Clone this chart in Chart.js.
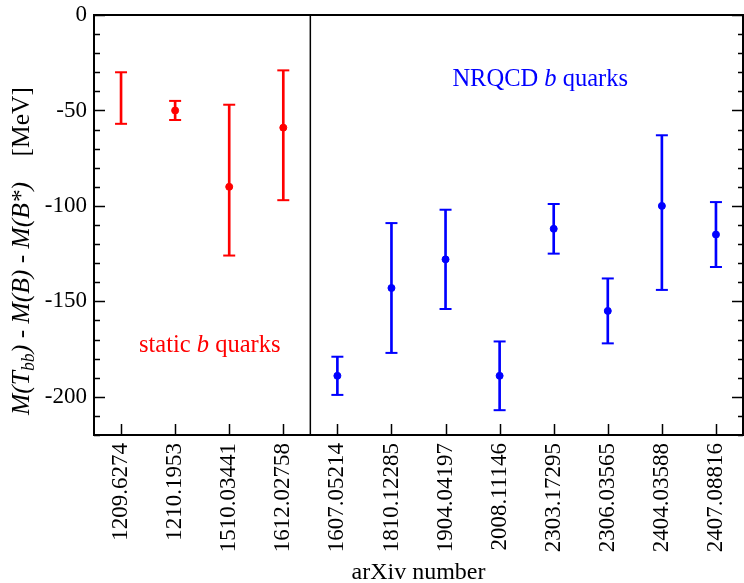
<!DOCTYPE html>
<html>
<head>
<meta charset="utf-8">
<script src="https://cdn.jsdelivr.net/npm/chart.js@4"></script>
<style>
  html, body { margin: 0; padding: 0; background: #fff; overflow: hidden; }
  #wrap { width: 744px; height: 583px; }
  canvas { display: block; }
</style>
</head>
<body>
<div id="wrap"><canvas id="tbbChart"></canvas></div>
<script>
// Tbb binding energy per arXiv paper (MeV)
const ARXIV_LABELS = [
  '1209.6274', '1210.1953', '1510.03441', '1612.02758',
  '1607.05214', '1810.12285', '1904.04197', '2008.11146',
  '2303.17295', '2306.03565', '2404.03588', '2407.08816'
];
// 'static' = static b quarks (red), 'nrqcd' = NRQCD b quarks (blue)
const QUARK_TYPE = [
  'static', 'static', 'static', 'static',
  'nrqcd', 'nrqcd', 'nrqcd', 'nrqcd', 'nrqcd', 'nrqcd', 'nrqcd', 'nrqcd'
];
const CENTRAL = [null, -50, -90, -59, -189, -143, -128, -189, -112, -155, -100, -115];
const UPPER   = [-30, -45, -47, -29, -179, -109, -102, -171, -99, -138, -63, -98];
const LOWER   = [-57, -55, -126, -97, -199, -177, -154, -207, -125, -172, -144, -132];
const Y_TICK_LABELS = [0, -50, -100, -150, -200];

const RED = '#ff0000';
const BLUE = '#0000ff';
const FONT = "'Liberation Serif', 'Times New Roman', serif";
const colors = QUARK_TYPE.map(t => t === 'static' ? RED : BLUE);

// frame, inward ticks and the separator line
const framePlugin = {
  id: 'frame',
  afterDraw(chart) {
    const ctx = chart.ctx;
    const ca = chart.chartArea;
    const xs = chart.scales.x;
    const ys = chart.scales.y;
    ctx.save();
    ctx.strokeStyle = '#000';
    ctx.lineWidth = 2;
    ctx.strokeRect(ca.left, ca.top, ca.right - ca.left, ca.bottom - ca.top);

    ctx.lineWidth = 1.5;
    ctx.beginPath();
    ys.ticks.forEach(t => {
      const py = Math.round(ys.getPixelForValue(t.value)) + 0.5;
      const major = Y_TICK_LABELS.includes(t.value);
      ctx.moveTo(ca.left, py); ctx.lineTo(ca.left + (major ? 11 : 6), py);
      ctx.moveTo(ca.right, py); ctx.lineTo(ca.right - (major ? 11 : 5), py);
    });
    ARXIV_LABELS.forEach((lab, i) => {
      const px = Math.round(xs.getPixelForValue(i)) + 0.5;
      ctx.moveTo(px, ca.bottom); ctx.lineTo(px, ca.bottom - 11);
    });
    ctx.stroke();

    // between static and NRQCD groups
    const split = QUARK_TYPE.indexOf('nrqcd');
    const sx = (xs.getPixelForValue(split - 1) + xs.getPixelForValue(split)) / 2;
    ctx.lineWidth = 1.5;
    ctx.beginPath();
    ctx.moveTo(sx, ca.top); ctx.lineTo(sx, ca.bottom);
    ctx.stroke();
    ctx.restore();
  }
};

// draw a run of text pieces (roman / italic / subscript) starting at x
function drawPieces(ctx, pieces, x, y, size) {
  pieces.forEach(p => {
    const fs = p.sub ? size * 0.7 : size;
    ctx.font = (p.italic ? 'italic ' : '') + fs + 'px ' + FONT;
    ctx.fillText(p.t, x, y + (p.sub ? size * 0.3 : 0));
    x += ctx.measureText(p.t).width;
  });
}
function piecesWidth(ctx, pieces, size) {
  let w = 0;
  pieces.forEach(p => {
    const fs = p.sub ? size * 0.7 : size;
    ctx.font = (p.italic ? 'italic ' : '') + fs + 'px ' + FONT;
    w += ctx.measureText(p.t).width;
  });
  return w;
}

const textPlugin = {
  id: 'texts',
  afterDraw(chart) {
    const ctx = chart.ctx;
    const ca = chart.chartArea;
    const xs = chart.scales.x;
    const ys = chart.scales.y;
    ctx.save();
    ctx.textBaseline = 'middle';
    ctx.textAlign = 'left';

    // y axis title, rotated
    const title = [
      { t: 'M(T', italic: true }, { t: 'bb', italic: true, sub: true }, { t: ')', italic: true },
      { t: ' - ' }, { t: 'M(B)', italic: true }, { t: ' - ' }, { t: 'M(B*)', italic: true },
      { t: '    [MeV]' }
    ];
    ctx.fillStyle = '#000';
    ctx.save();
    ctx.translate(22, 415);
    ctx.rotate(-Math.PI / 2);
    drawPieces(ctx, title, 0, 0, 25.5);
    ctx.restore();

    // x axis title
    ctx.font = '24px ' + FONT;
    ctx.textAlign = 'center';
    ctx.textBaseline = 'alphabetic';
    ctx.fillText('arXiv number', (ca.left + ca.right) / 2, 579);
    ctx.textAlign = 'left';
    ctx.textBaseline = 'middle';

    // group labels
    const stat = [{ t: 'static ' }, { t: 'b', italic: true }, { t: ' quarks' }];
    ctx.fillStyle = RED;
    let w = piecesWidth(ctx, stat, 24.5);
    drawPieces(ctx, stat, xs.getPixelForValue(1.64) - w / 2, ys.getPixelForValue(-173), 24.5);

    const nrqcd = [{ t: 'NRQCD ' }, { t: 'b', italic: true }, { t: ' quarks' }];
    ctx.fillStyle = BLUE;
    w = piecesWidth(ctx, nrqcd, 24.5);
    drawPieces(ctx, nrqcd, xs.getPixelForValue(7.75) - w / 2, ys.getPixelForValue(-34), 24.5);
    ctx.restore();
  }
};

const capStyle = {
  type: 'line',
  showLine: false,
  pointStyle: 'line',
  pointRadius: 6,
  pointHoverRadius: 6,
  pointBorderWidth: 2,
  pointHoverBorderWidth: 2,
  pointBorderColor: colors,
  pointBackgroundColor: colors
};

new Chart(document.getElementById('tbbChart'), {
  type: 'bar',
  data: {
    labels: ARXIV_LABELS,
    datasets: [
      {
        // error bar stems
        data: LOWER.map((lo, i) => [lo, UPPER[i]]),
        backgroundColor: colors,
        borderWidth: 0,
        barThickness: 2,
        order: 3
      },
      Object.assign({ data: UPPER, order: 2 }, capStyle),
      Object.assign({ data: LOWER, order: 2 }, capStyle),
      {
        type: 'line',
        data: CENTRAL,
        showLine: false,
        pointRadius: 3.5,
        pointHoverRadius: 3.5,
        pointBorderWidth: 1,
        pointBorderColor: colors,
        pointBackgroundColor: colors,
        order: 1
      }
    ]
  },
  options: {
    responsive: true,
    maintainAspectRatio: false,
    animation: false,
    layout: { autoPadding: false, padding: { top: 15, right: 1, left: 0, bottom: 0 } },
    plugins: {
      legend: { display: false },
      tooltip: { enabled: false },
      title: { display: false }
    },
    scales: {
      x: {
        grid: { display: false, drawTicks: false },
        border: { display: false },
        ticks: {
          autoSkip: false,
          minRotation: 90,
          maxRotation: 90,
          padding: 8,
          color: '#000',
          font: { family: FONT, size: 23 }
        },
        afterFit: s => { s.height = 148; s.paddingLeft = 0; s.paddingRight = 0; }
      },
      y: {
        min: -220,
        max: 0,
        grid: { display: false, drawTicks: false },
        border: { display: false },
        ticks: {
          autoSkip: false,
          stepSize: 10,
          padding: 7,
          color: '#000',
          font: { family: FONT, size: 23 },
          callback: v => Y_TICK_LABELS.includes(v) ? String(v) : ''
        },
        afterFit: s => { s.width = 94; s.paddingTop = 0; s.paddingBottom = 0; }
      }
    }
  },
  plugins: [framePlugin, textPlugin]
});
</script>
</body>
</html>
